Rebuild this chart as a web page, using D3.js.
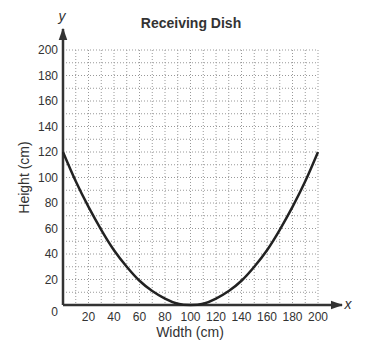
<!DOCTYPE html>
<html>
<head>
<meta charset="utf-8">
<script src="https://cdn.jsdelivr.net/npm/d3@7"></script>
<style>
  body { margin: 0; background: #fff; }
  text { font-family: "Liberation Sans", Arial, sans-serif; fill: #333; }
</style>
</head>
<body>
<div id="chart"></div>
<script>
// values
var widths = [0, 10, 20, 30, 40, 50, 60, 70, 80, 90, 100, 110, 120, 130, 140, 150, 160, 170, 180, 190, 200];
var heights = [120, 97, 77, 59, 43, 30, 19, 11, 5, 1, 0, 1, 5, 11, 19, 30, 43, 59, 77, 97, 120];
var xTicks = [20, 40, 60, 80, 100, 120, 140, 160, 180, 200];
var yTicks = [20, 40, 60, 80, 100, 120, 140, 160, 180, 200];
var gridVals = d3.range(10, 201, 10);

var W = 390, H = 351;
var margin = {top: 50, right: 72, bottom: 46, left: 63};
var width = W - margin.left - margin.right;
var height = H - margin.top - margin.bottom;

var svg = d3.select("#chart").append("svg")
    .attr("width", W)
    .attr("height", H);

var g = svg.append("g").attr("transform", "translate(" + margin.left + "," + margin.top + ")");

var x = d3.scaleLinear().domain([0, 200]).range([0, width]);
var y = d3.scaleLinear().domain([0, 200]).range([height, 0]);

// dotted grid
g.append("g").selectAll("line")
  .data(gridVals)
  .enter().append("line")
    .attr("x1", function(d) { return x(d); })
    .attr("x2", function(d) { return x(d); })
    .attr("y1", 0)
    .attr("y2", height)
    .attr("stroke", "#999")
    .attr("stroke-width", 1)
    .attr("stroke-dasharray", "1,2");

g.append("g").selectAll("line")
  .data(gridVals)
  .enter().append("line")
    .attr("x1", 0)
    .attr("x2", width)
    .attr("y1", function(d) { return y(d); })
    .attr("y2", function(d) { return y(d); })
    .attr("stroke", "#999")
    .attr("stroke-width", 1)
    .attr("stroke-dasharray", "1,2");

// axes with arrows
svg.append("defs").append("marker")
    .attr("id", "arrow")
    .attr("viewBox", "0 0 10 10")
    .attr("refX", 9).attr("refY", 5)
    .attr("markerWidth", 5).attr("markerHeight", 5)
    .attr("markerUnits", "strokeWidth")
    .attr("orient", "auto")
  .append("path")
    .attr("d", "M0,1.5L10,5L0,8.5Z")
    .attr("fill", "#333");

g.append("line")
    .attr("x1", 0).attr("y1", height)
    .attr("x2", 0).attr("y2", -21)
    .attr("stroke", "#333").attr("stroke-width", 2.5)
    .attr("marker-end", "url(#arrow)");

g.append("line")
    .attr("x1", 0).attr("y1", height)
    .attr("x2", width + 24).attr("y2", height)
    .attr("stroke", "#333").attr("stroke-width", 2.5)
    .attr("marker-end", "url(#arrow)");

// tick labels
g.append("g").selectAll("text")
  .data(xTicks)
  .enter().append("text")
    .attr("x", function(d) { return x(d); })
    .attr("y", height + 16)
    .attr("text-anchor", "middle")
    .attr("font-size", 12)
    .text(function(d) { return d; });

g.append("g").selectAll("text")
  .data(yTicks)
  .enter().append("text")
    .attr("x", -5)
    .attr("y", function(d) { return y(d); })
    .attr("dy", "0.35em")
    .attr("text-anchor", "end")
    .attr("font-size", 12)
    .text(function(d) { return d; });

g.append("text")
    .attr("x", -5).attr("y", height + 11)
    .attr("text-anchor", "end")
    .attr("font-size", 12)
    .text("0");

// the dish curve
var line = d3.line()
    .x(function(d, i) { return x(widths[i]); })
    .y(function(d) { return y(d); })
    .curve(d3.curveNatural);

g.append("path")
    .datum(heights)
    .attr("d", line)
    .attr("fill", "none")
    .attr("stroke", "#222")
    .attr("stroke-width", 2.5);

// titles and labels
svg.append("text")
    .attr("x", 191).attr("y", 28)
    .attr("text-anchor", "middle")
    .attr("font-size", 14)
    .attr("font-weight", "bold")
    .text("Receiving Dish");

svg.append("text")
    .attr("x", 190).attr("y", 337)
    .attr("text-anchor", "middle")
    .attr("font-size", 14)
    .text("Width (cm)");

svg.append("text")
    .attr("transform", "translate(29," + (margin.top + height / 2) + ")rotate(-90)")
    .attr("text-anchor", "middle")
    .attr("font-size", 14)
    .text("Height (cm)");

svg.append("text")
    .attr("x", 62).attr("y", 21)
    .attr("text-anchor", "middle")
    .attr("font-size", 14)
    .attr("font-style", "italic")
    .text("y");

svg.append("text")
    .attr("x", 348).attr("y", 309)
    .attr("text-anchor", "middle")
    .attr("font-size", 14)
    .attr("font-style", "italic")
    .text("x");
</script>
</body>
</html>
